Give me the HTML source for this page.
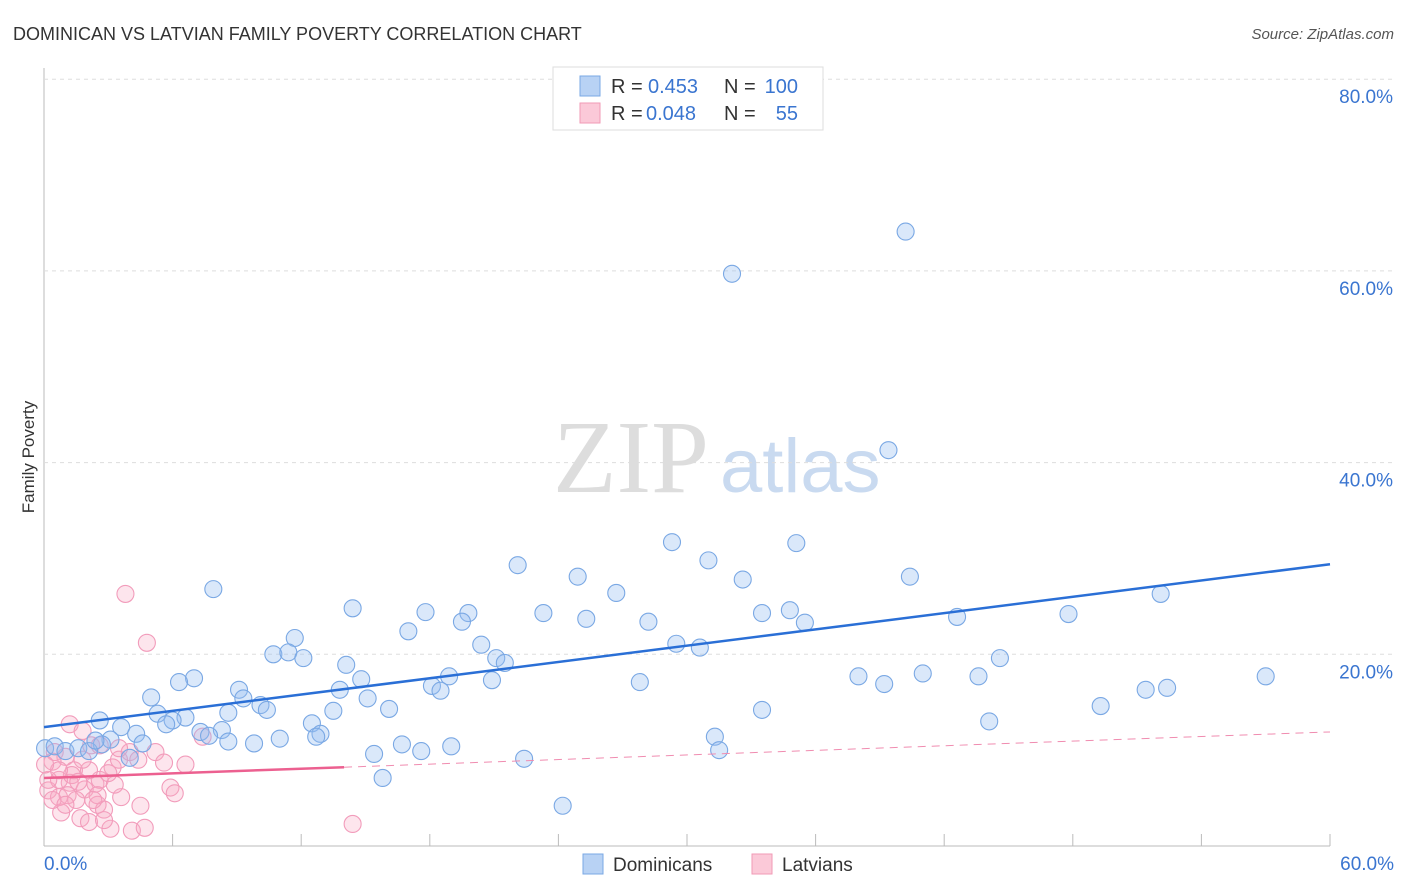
<!DOCTYPE html>
<html><head><meta charset="utf-8"><style>
body{margin:0;background:#fff;font-family:"Liberation Sans",sans-serif;}
svg{display:block}
</style></head><body>
<svg id="c" width="1406" height="892" xmlns="http://www.w3.org/2000/svg">
<text x="13" y="40" font-size="18" fill="#333">DOMINICAN VS LATVIAN FAMILY POVERTY CORRELATION CHART</text>
<text x="1394" y="39" font-size="15" font-style="italic" fill="#555" text-anchor="end">Source: ZipAtlas.com</text>
<text transform="translate(34,457) rotate(-90)" font-size="17" fill="#333" text-anchor="middle">Family Poverty</text>
<text x="553" y="492" font-size="104" font-family="Liberation Serif,serif" fill="#ddd">ZIP</text>
<text x="720" y="492" font-size="76" fill="#c9daf0">atlas</text>
<g id="grid"></g><g id="marks"></g>
<g>
<rect x="553" y="67" width="270" height="63" fill="#fff" stroke="#ddd"/>
<rect x="580" y="76" width="20" height="20" fill="#b8d2f4" stroke="#7aa8e4"/>
<rect x="580" y="103" width="20" height="20" fill="#fbc9d8" stroke="#f09ab6"/>
<text y="93" font-size="20" fill="#333"><tspan x="611">R =</tspan><tspan x="648" fill="#3a75d0">0.453</tspan><tspan x="724">N =</tspan><tspan x="798" text-anchor="end" fill="#3a75d0">100</tspan></text>
<text y="120" font-size="20" fill="#333"><tspan x="611">R =</tspan><tspan x="646" fill="#3a75d0">0.048</tspan><tspan x="724">N =</tspan><tspan x="798" text-anchor="end" fill="#3a75d0">55</tspan></text>
</g>
<g>
<rect x="583" y="854" width="20" height="20" fill="#b8d2f4" stroke="#7aa8e4"/>
<text x="613" y="871" font-size="19" fill="#333">Dominicans</text>
<rect x="752" y="854" width="20" height="20" fill="#fbc9d8" stroke="#f09ab6"/>
<text x="782" y="871" font-size="19" fill="#333">Latvians</text>
</g>
</svg>
<script>
const yTicks=[20,40,60,80];
const xTickLabels=["0.0%","60.0%"];
const blueX=[40.2,32.1,39.4,29.3,35.1,31.0,22.1,24.9,32.6,40.4,7.9,26.7,52.1,14.4,17.8,19.8,23.3,25.3,19.5,34.8,33.5,35.5,28.2,42.6,47.8,17.0,11.7,20.4,29.5,30.6,10.7,11.4,12.1,21.1,21.5,14.1,7.0,6.3,14.8,18.9,18.1,18.5,20.9,27.8,38.0,39.2,41.0,43.6,44.6,57.0,51.4,52.4,9.1,5.0,13.8,9.3,15.1,10.1,10.4,16.1,13.5,5.3,6.6,6.0,5.7,8.6,2.6,3.6,4.3,8.3,7.3,7.7,12.5,12.9,12.7,8.6,3.1,4.6,2.7,9.8,11.0,16.7,17.6,19.0,15.4,31.3,31.5,33.5,44.1,49.3,22.4,15.8,24.2,0.05,0.5,1.0,1.6,2.1,2.4,4.0];
const blueY=[64.1,59.7,41.3,31.7,31.6,29.8,29.3,28.1,27.8,28.1,26.8,26.4,26.3,24.8,24.4,24.3,24.3,23.7,23.4,24.6,24.3,23.3,23.4,23.9,24.2,22.4,21.7,21.0,21.1,20.7,20.0,20.2,19.6,19.6,19.1,18.9,17.5,17.1,17.4,17.7,16.7,16.2,17.3,17.1,17.7,16.9,18.0,17.7,19.6,17.7,16.3,16.5,16.3,15.5,16.3,15.4,15.4,14.7,14.2,14.3,14.1,13.8,13.4,13.1,12.7,13.9,13.1,12.4,11.7,12.1,11.9,11.5,12.8,11.7,11.4,10.9,11.1,10.7,10.6,10.7,11.2,10.6,9.9,10.4,9.6,11.4,10.0,14.2,13.0,14.6,9.1,7.1,4.2,10.2,10.4,9.9,10.2,9.9,11.0,9.2];
const pinkX=[3.8,4.8,1.2,2.2,1.8,0.5,1.0,1.4,0.4,0.2,0.7,1.2,1.9,2.4,2.6,3.2,3.5,4.0,4.4,5.2,5.6,6.6,5.9,6.1,0.7,1.1,1.5,1.7,2.1,2.5,2.8,3.1,3.6,4.1,4.5,4.7,2.8,0.8,0.4,0.2,1.3,2.1,2.5,3.3,14.4,7.4,3.5,3.0,1.8,0.7,1.0,1.6,2.3,2.6,0.05];
const pinkY=[26.3,21.2,12.7,10.5,12.0,9.8,9.3,7.9,8.8,5.8,5.1,6.6,5.9,6.5,6.9,8.2,9.0,9.8,9.0,9.8,8.7,8.5,6.1,5.5,6.9,5.3,4.8,2.9,2.5,4.3,3.8,1.8,5.1,1.6,4.2,1.9,2.7,3.5,4.8,6.9,7.4,7.9,5.3,6.4,2.3,11.4,10.2,7.6,9.0,7.9,4.3,6.7,4.8,10.5,8.5];
const blueTrend=[12.4,29.4];
const pinkTrend=[7.1,11.9];
const pinkSolidEnd=14;
const X=v=>44+v*(1286/60), Y=v=>846-v*9.585;
const NS="http://www.w3.org/2000/svg";
function mk(t,a,p){const e=document.createElementNS(NS,t);for(const k in a)e.setAttribute(k,a[k]);p.appendChild(e);return e;}
const g=document.getElementById('grid'), m=document.getElementById('marks');
const ax=mk('line',{x1:44,y1:68,x2:44,y2:846,stroke:'#bbb'},g);


const bx=mk('line',{x1:44,y1:846,x2:1330,y2:846,stroke:'#bbb'},g);


for(let i=1;i<=10;i++){const t=mk('line',{x1:X(i*6),x2:X(i*6),y1:846,y2:834,stroke:'#bbb'},g);

}
yTicks.forEach(v=>{const l=mk('line',{x1:44,x2:1394,y1:Y(v),y2:Y(v),stroke:'#ddd','stroke-dasharray':'4,4'},g);


const t=mk('text',{x:1393,y:Y(v)+24,'font-size':19,fill:'#3a75d0','text-anchor':'end'},g);t.textContent=v.toFixed(1)+'%';

});
[[0,'start',44],[60,'end',1394]].forEach((d,i)=>{const t=mk('text',{x:d[2],y:870,'font-size':19,fill:'#3a75d0','text-anchor':d[1]},g);t.textContent=xTickLabels[i];

});
pinkX.forEach((x,i)=>{const c=mk('circle',{cx:X(x),cy:Y(pinkY[i]),r:8.5,fill:'rgba(248,170,195,0.3)',stroke:'#f29cbb','stroke-width':1.1},m);

});
blueX.forEach((x,i)=>{const c=mk('circle',{cx:X(x),cy:Y(blueY[i]),r:8.5,fill:'rgba(150,190,240,0.35)',stroke:'#7aa8e4','stroke-width':1.1},m);

});
const bl=mk('line',{x1:X(0),y1:Y(blueTrend[0]),x2:X(60),y2:Y(blueTrend[1]),stroke:'#2a6fd6','stroke-width':2.5},m);


const pv=v=>pinkTrend[0]+(pinkTrend[1]-pinkTrend[0])*v/60;
const pd=mk('line',{x1:X(pinkSolidEnd),y1:Y(pv(pinkSolidEnd)),x2:X(60),y2:Y(pinkTrend[1]),stroke:'#f08cb0','stroke-width':1,'stroke-dasharray':'8,6'},m);


const ps=mk('line',{x1:X(0),y1:Y(pinkTrend[0]),x2:X(pinkSolidEnd),y2:Y(pv(pinkSolidEnd)),stroke:'#ec6090','stroke-width':2.5},m);


</script>
</body></html>
